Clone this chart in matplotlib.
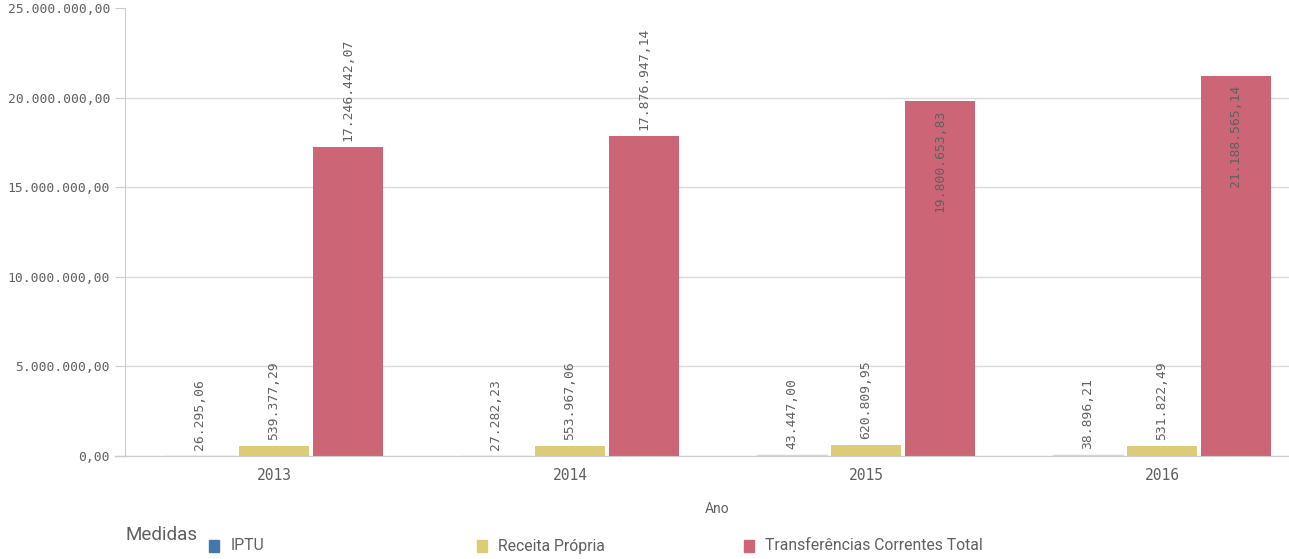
import matplotlib
matplotlib.use("Agg")
import matplotlib.pyplot as plt
from matplotlib.patches import Rectangle
from matplotlib.lines import Line2D
import numpy as np

years = ["2013", "2014", "2015", "2016"]
series_names = ["IPTU", "Receita Própria", "Transferências Correntes Total"]
iptu = [26295.06, 27282.23, 43447.00, 38896.21]
receita = [539377.29, 553967.06, 620809.95, 531822.49]
transf = [17246442.07, 17876947.14, 19800653.83, 21188565.14]
iptu_labels = ["26.295,06", "27.282,23", "43.447,00", "38.896,21"]
receita_labels = ["539.377,29", "553.967,06", "620.809,95", "531.822,49"]
transf_labels = ["17.246.442,07", "17.876.947,14", "19.800.653,83", "21.188.565,14"]
y_ticks = [0, 5000000, 10000000, 15000000, 20000000, 25000000]
y_tick_labels = ["0,00", "5.000.000,00", "10.000.000,00", "15.000.000,00",
                 "20.000.000,00", "25.000.000,00"]

colors = ["#4477aa", "#ddcc77", "#cc6677"]
text_c = "#5f5f5f"
mono = "DejaVu Sans Mono"
narrow = ["Liberation Sans Narrow", "Roboto", "DejaVu Sans"]

W, H = 1289, 559
fig = plt.figure(figsize=(W / 100, H / 100), dpi=100)
ax_l, ax_r, ax_t, ax_b = 125, 1289, 8, 456
ax = fig.add_axes([ax_l / W, 1 - ax_b / H, (ax_r - ax_l) / W, (ax_b - ax_t) / H])

x = np.arange(len(years))
group_px = 296.0
bw = 70 / group_px
step = 74 / group_px
data = [iptu, receita, transf]
labels = [iptu_labels, receita_labels, transf_labels]

ax.set_ylim(0, 25000000)
ax.set_xlim((ax_l - 274) / group_px, (ax_r - 274) / group_px)

for s in range(3):
    xs = x + (s - 1) * step
    if s == 0:
        ax.bar(xs, data[s], width=bw, color="#b9cbe2", edgecolor="#c9d6e8",
               linewidth=1.0, zorder=6)
    else:
        ax.bar(xs, data[s], width=bw, color=colors[s], zorder=3)

ypx = 25000000 / (ax_b - ax_t)
for s in range(3):
    xs = x + (s - 1) * step
    for i in range(len(years)):
        v = data[s][i]
        lab = labels[s][i]
        tl = len(lab) * 7.8
        top_px = ax_b - v / ypx
        if top_px - 6 - tl > ax_t + 2:
            ax.text(xs[i], v + 6 * ypx, lab, rotation=90, ha="center", va="bottom",
                    fontsize=9.4, family=mono, color=text_c, zorder=7)
        else:
            ax.text(xs[i], v - 8 * ypx, lab, rotation=90, ha="center", va="top",
                    fontsize=9.4, family=mono, color=text_c, zorder=7)

ax.set_yticks(y_ticks)
ax.set_yticklabels(y_tick_labels, family=mono, fontsize=9.4, color=text_c)
ax.set_xticks(x)
ax.set_xticklabels(years, family=mono, fontsize=10.5, color=text_c)
ax.tick_params(axis="y", length=7.2, width=0.8, color="#cccccc", pad=3.6)
ax.tick_params(axis="x", length=0, pad=9)
ax.grid(axis="y", color="#d9d9d9", linewidth=1, zorder=0)
for sp in ["top", "right"]:
    ax.spines[sp].set_visible(False)
ax.spines["left"].set_color("#cccccc")
ax.spines["bottom"].set_color("#cccccc")
ax.spines["bottom"].set_zorder(5)

gl = ax.get_ygridlines()
gl[-1].set_visible(False)

# extend x-axis baseline left of the y axis
fig.lines.append(Line2D([115 / W, 125 / W], [1 - 456 / H, 1 - 456 / H],
                        transform=fig.transFigure, color="#cccccc", linewidth=1))

fig.text(717 / W, 1 - 509 / H, "Ano", ha="center", va="center",
         fontsize=10, family=narrow, color=text_c)

fig.text(126 / W, 1 - 535 / H, "Medidas", ha="left", va="center",
         fontsize=13.5, family=narrow, color=text_c)
leg = [(209, 231), (477, 498), (744, 765)]
for s, (sx, tx) in enumerate(leg):
    fig.patches.append(Rectangle((sx / W, 1 - 552 / H), 10 / W, 12 / H,
                                 transform=fig.transFigure, color=colors[s]))
    fig.text(tx / W, 1 - 546 / H, series_names[s], ha="left", va="center",
             fontsize=11.3, family=narrow, color=text_c)

fig.savefig("out.png", dpi=100)
